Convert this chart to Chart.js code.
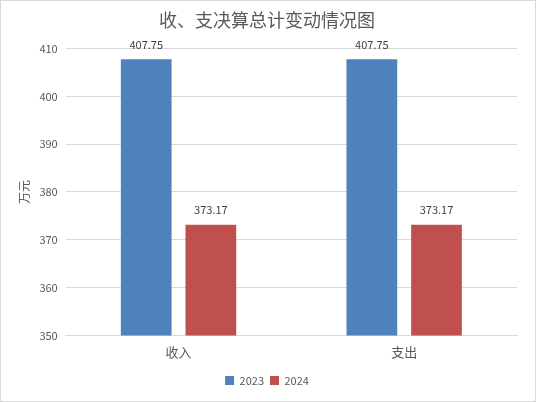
<!DOCTYPE html>
<html>
<head>
<meta charset="utf-8">
<script src="https://cdn.jsdelivr.net/npm/chart.js@4/dist/chart.umd.min.js"></script>
<style>
  html, body { margin: 0; padding: 0; background: #fff; }
  #wrap { width: 536px; height: 402px; box-sizing: border-box; border: 1px solid #d9d9d9; }
  #wrap canvas { display: block; }
</style>
</head>
<body>
<div id="wrap"><canvas id="chart" width="534" height="400"></canvas></div>
<script>
// 数据
var categories = ["收入", "支出"];
var years = ["2023", "2024"];
var values2023 = [407.75, 407.75];
var values2024 = [373.17, 373.17];
var yTicks = [350, 360, 370, 380, 390, 400, 410];

var fontFamily = "'Microsoft YaHei', 'Noto Sans CJK SC', 'Noto Sans', sans-serif";

// 柱顶数值标签
var barLabels = {
  id: "barLabels",
  afterDatasetsDraw: function(chart) {
    var ctx = chart.ctx;
    ctx.save();
    ctx.font = "11px " + fontFamily;
    ctx.fillStyle = "#404040";
    ctx.textAlign = "center";
    ctx.textBaseline = "bottom";
    chart.data.datasets.forEach(function(ds, i) {
      chart.getDatasetMeta(i).data.forEach(function(bar, j) {
        ctx.fillText(ds.data[j].toFixed(2), bar.x, bar.y - 9);
      });
    });
    ctx.restore();
  }
};

var ctx = document.getElementById("chart").getContext("2d");
new Chart(ctx, {
  type: "bar",
  data: {
    labels: categories,
    datasets: [{
      label: years[0],
      data: values2023,
      backgroundColor: "#4f81bd"
    }, {
      label: years[1],
      data: values2024,
      backgroundColor: "#c0504d"
    }]
  },
  options: {
    responsive: false,
    animation: false,
    datasets: {
      bar: { categoryPercentage: 0.573, barPercentage: 0.785 }
    },
    layout: { padding: { left: 16, right: 18, top: 0, bottom: 5 } },
    plugins: {
      title: {
        display: true,
        text: "收、支决算总计变动情况图",
        color: "#595959",
        font: { size: 18, family: fontFamily, weight: "normal" },
        padding: { top: 8, bottom: 18 }
      },
      legend: {
        position: "bottom",
        labels: {
          boxWidth: 9,
          boxHeight: 9,
          padding: 6,
          color: "#595959",
          font: { size: 11, family: fontFamily }
        }
      },
      tooltip: { enabled: false }
    },
    scales: {
      x: {
        grid: { display: false, drawTicks: false },
        border: { color: "#d9d9d9" },
        ticks: {
          color: "#595959",
          padding: 9,
          font: { size: 13, family: fontFamily }
        }
      },
      y: {
        min: yTicks[0],
        max: yTicks[yTicks.length - 1],
        afterBuildTicks: function(axis) {
          axis.ticks = yTicks.map(function(v) { return { value: v }; });
        },
        grid: { color: "#d9d9d9", drawTicks: false },
        border: { display: false },
        title: {
          display: true,
          text: "万元",
          color: "#595959",
          font: { size: 12, family: fontFamily },
          padding: { top: 0, bottom: 0 }
        },
        ticks: {
          color: "#595959",
          padding: 8,
          font: { size: 11, family: fontFamily }
        }
      }
    }
  },
  plugins: [barLabels]
});
</script>
</body>
</html>
